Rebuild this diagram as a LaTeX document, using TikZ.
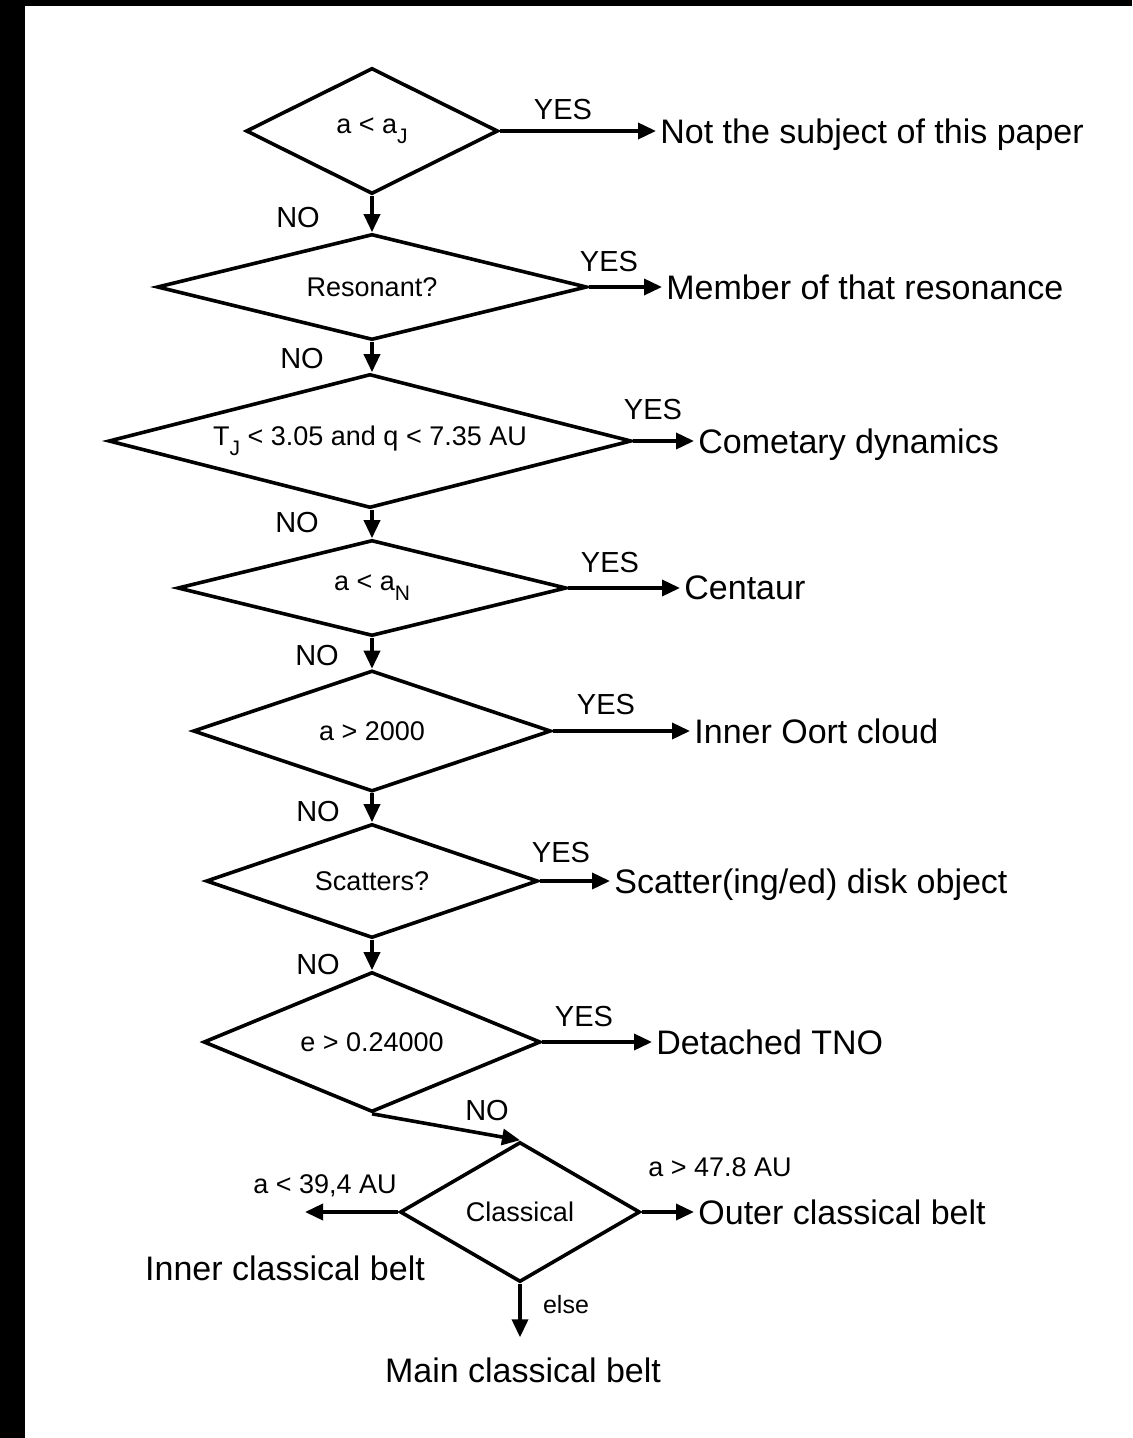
\documentclass[tikz,border=0pt]{standalone}
\usepackage{fontspec}
\setmainfont{Liberation Sans}
\usetikzlibrary{shapes.geometric,arrows.meta}
\newcommand{\lowidx}[1]{\raisebox{-0.7ex}{\fontsize{10.5}{10.5}\selectfont #1}}

\begin{document}
\begin{tikzpicture}[x=0.5pt, y=-0.5pt,
    test/.style={draw, diamond, line width=1.8pt, inner sep=0pt, font=\fontsize{13.5}{15}\selectfont},
    res/.style={anchor=west, inner sep=2pt, text depth=0pt, font=\fontsize{17}{19}\selectfont},
    lab/.style={inner sep=0pt, font=\fontsize{14.5}{16}\selectfont},
    cond/.style={inner sep=0pt, font=\fontsize{13.5}{15}\selectfont},
    arr/.style={line width=1.8pt, -{Triangle[length=9pt, width=8pt]}}]
    \useasboundingbox (0,0) rectangle (1132,1438);
    \fill (0,0) rectangle (25,1438);
    \fill (0,0) rectangle (1132,6);

    \node[test, minimum width=126pt, minimum height=63pt, aspect=2] (1) at (372,131) {a < a\lowidx{J}};
    \node[test, minimum width=215pt, minimum height=53pt, aspect=4] (2) at (372,287) {Resonant?};
    \node[test, minimum width=261.5pt, minimum height=67pt, aspect=3.9] (3) at (370,441) {T\lowidx{J} < 3.05 and q < 7.35 AU};
    \node[test, minimum width=194.5pt, minimum height=48pt, aspect=4] (4) at (372,588) {a < a\lowidx{N}};
    \node[test, minimum width=179pt, minimum height=60.5pt, aspect=3] (5) at (372,731) {a > 2000};
    \node[test, minimum width=166pt, minimum height=57pt, aspect=2.9] (6) at (372,881) {Scatters?};
    \node[test, minimum width=168.5pt, minimum height=70pt, aspect=2.4] (7) at (372,1042) {e > 0.24000};
    \node[test, minimum width=120pt, minimum height=70pt, aspect=1.7] (8) at (520,1212) {Classical};

    \node[res] (11) at (656,131) {Not the subject of this paper};
    \node[res] (12) at (662,287) {Member of that resonance};
    \node[res] (13) at (694,441) {Cometary dynamics};
    \node[res] (14) at (680,588) {Centaur};
    \node[res] (15) at (690,731) {Inner Oort cloud};
    \node[res] (16) at (610,881) {Scatter(ing/ed) disk object};
    \node[res] (17) at (652,1042) {Detached TNO};
    \node[res] (18) at (694,1212) {Outer classical belt};
    \node[res, anchor=center] (19) at (285,1268) {Inner classical belt};
    \node[res, anchor=center] (20) at (523,1370) {Main classical belt};
    \coordinate (9) at (305,1212);

    \node[lab] (21) at (563,110) {YES};
    \node[lab] (22) at (609,262) {YES};
    \node[lab] (23) at (653,410) {YES};
    \node[lab] (24) at (610,563) {YES};
    \node[lab] (25) at (606,705) {YES};
    \node[lab] (26) at (561,853) {YES};
    \node[lab] (27) at (584,1017) {YES};
    \node[lab] (31) at (298,218) {NO};
    \node[lab] (32) at (302,359) {NO};
    \node[lab] (33) at (297,523) {NO};
    \node[lab] (34) at (317,656) {NO};
    \node[lab] (35) at (318,812) {NO};
    \node[lab] (36) at (318,965) {NO};
    \node[lab] (37) at (487,1111) {NO};
    \node[cond] (41) at (325,1186) {a < 39,4 AU};
    \node[cond] (42) at (720,1167) {a > 47.8 AU};
    \node[cond, font=\fontsize{12.5}{14}\selectfont] (43) at (566,1305) {else};

    \draw[arr] (1.south) -- (2.north);
    \draw[arr] (2.south) -- (2.south |- 3.north);
    \draw[arr] (3.south -| 2.south) -- (4.north);
    \draw[arr] (4.south) -- (5.north);
    \draw[arr] (5.south) -- (6.north);
    \draw[arr] (6.south) -- (7.north);
    \draw[arr] (7.south) -- (8.north);

    \draw[arr] (1.east) -- (11.west);
    \draw[arr] (2.east) -- (12.west);
    \draw[arr] (3.east) -- (13.west);
    \draw[arr] (4.east) -- (14.west);
    \draw[arr] (5.east) -- (15.west);
    \draw[arr] (6.east) -- (16.west);
    \draw[arr] (7.east) -- (17.west);
    \draw[arr] (8.east) -- (18.west);
    \draw[arr] (8.west) -- (9);
    \draw[arr, shorten >=8pt] (8.south) -- (8.south |- 20.north);
\end{tikzpicture}
\end{document}
